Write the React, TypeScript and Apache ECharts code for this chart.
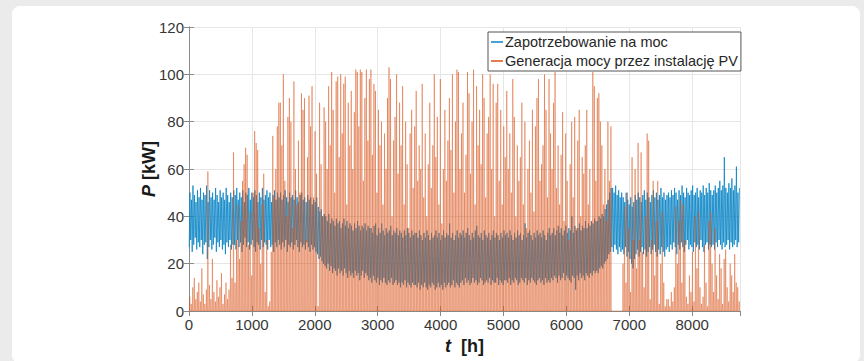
import React, { useEffect, useRef } from "react";
import * as echarts from "echarts";

// ---- data (one value per day of the year) ----
const HOURS_PER_DAY = 24;

// PV generation: daily peak power [kW]
const pvDailyPeak = [
  6, 3, 10, 14, 5, 8, 12, 4, 18, 7, 3, 9, 59, 11, 5, 22, 8, 4, 13, 6, 10, 16, 3, 7, 12, 5, 9, 28, 14, 67,
  12, 30, 45, 22, 38, 55, 62, 69, 66, 28, 42, 15, 50, 76, 71, 68, 35, 20, 45, 58, 8, 30, 2, 4, 25, 74, 48, 60, 78, 88,
  88, 70, 100, 55, 40, 82, 90, 80, 35, 97, 60, 45, 72, 50, 92, 85, 90, 30, 65, 91, 78, 95, 48, 76, 58, 2, 88, 62, 40, 86,
  80, 60, 95, 70, 101, 85, 50, 97, 99, 65, 100, 75, 96, 99, 45, 88, 70, 93, 60, 84, 102, 101, 78, 102, 101, 55, 90, 102, 72, 98,
  102, 66, 96, 93, 50, 85, 70, 80, 45, 75, 60, 90, 103, 98, 40, 72, 82, 100, 58, 88, 70, 95, 45, 80, 62, 35, 75, 85, 52, 78,
  93, 55, 70, 60, 96, 48, 75, 40, 62, 88, 52, 70, 100, 65, 82, 45, 98, 37, 60, 85, 55, 72, 90, 68, 100, 50, 80, 102, 101, 60,
  75, 88, 50, 66, 101, 92, 58, 80, 102, 45, 95, 70, 85, 62, 100, 90, 48, 75, 82, 100, 60, 96, 40, 88, 96, 55, 85, 45, 78, 65,
  93, 60, 75, 50, 98, 82, 40, 70, 55, 65, 88, 45, 80, 35, 60, 72, 50, 85, 42, 78, 90, 98, 55, 62, 70, 100, 85, 48, 98, 75,
  60, 88, 101, 52, 70, 45, 66, 84, 38, 75, 55, 30, 62, 80, 48, 82, 35, 72, 85, 40, 65, 58, 70, 85, 45, 60, 38, 101, 95, 55,
  90, 92, 80, 70, 45, 60, 38, 80, 55, 78,
  0, 0, 0, 0, 0, 0, 0,
  20, 44, 12, 50, 35, 8, 65, 30, 60, 18, 71, 30, 67, 25, 10, 40, 75, 72, 5, 30, 55, 15, 38, 55, 3, 20, 42, 12, 2, 5,
  5, 2, 8, 4, 10, 44, 20, 38, 47, 12, 45, 30, 6, 3, 15, 8, 25, 4, 40, 18, 42, 10, 3, 6, 28, 12, 2, 38, 42, 20,
  8, 35, 15, 5, 24, 18, 3, 22, 26, 10, 4, 20, 15, 8, 24, 12, 10, 4,
];

// Power demand: daily minimum [kW]
const demandDailyMin = [
  27, 30, 25, 28, 31, 26, 29, 27, 30, 24, 28, 29, 22, 27, 30, 26, 28, 31, 25, 29, 27, 30, 26, 28, 24, 29, 27, 30, 26, 28,
  28, 26, 30, 27, 29, 25, 28, 31, 27, 29, 26, 28, 30, 27, 25, 29, 28, 26, 30, 27, 29, 28, 26, 30, 27, 28, 25, 29, 27, 30,
  28, 26, 29, 27, 30, 25, 28, 27, 29, 26, 28, 30, 27, 25, 29, 27, 28, 26, 29, 27, 25, 28, 26, 27, 25, 24, 22, 23, 21, 20,
  19, 18, 20, 17, 19, 16, 18, 17, 15, 18, 16, 17, 15, 18, 16, 14, 17, 15, 16, 14, 17, 15, 16, 13, 15, 17, 14, 16, 15, 13,
  14, 12, 15, 13, 12, 14, 11, 13, 12, 14, 12, 11, 13, 12, 14, 11, 12, 13, 11, 12, 10, 12, 11, 13, 10, 12, 11, 10, 12, 11,
  11, 10, 12, 9, 11, 10, 12, 10, 9, 11, 10, 12, 11, 9, 10, 12, 10, 11, 9, 12, 10, 11, 12, 10, 11, 13, 10, 12, 11, 10,
  12, 13, 11, 14, 12, 13, 11, 12, 14, 12, 13, 11, 12, 14, 13, 11, 12, 13, 12, 14, 11, 13, 12, 12, 14, 11, 13, 12, 11, 13,
  13, 12, 14, 11, 13, 12, 14, 13, 11, 12, 14, 13, 12, 14, 11, 13, 12, 14, 13, 12, 11, 13, 14, 12, 13, 11, 14, 12, 13, 12,
  14, 13, 15, 14, 12, 15, 13, 14, 16, 13, 15, 14, 13, 12, 15, 14, 9, 15, 13, 16, 14, 15, 13, 16, 15, 14, 16, 15, 17, 16,
  17, 16, 18, 19, 18, 20, 21, 22, 24, 25,
  27, 25, 28, 26, 24, 27, 25,
  26, 24, 27, 23, 25, 22, 20, 18, 22, 24, 26, 23, 25, 27, 24, 26, 23, 25, 27, 24, 26, 28, 25, 23, 26, 24, 27, 25, 23, 26,
  27, 25, 28, 26, 29, 27, 24, 28, 26, 29, 27, 25, 28, 30, 26, 28, 27, 25, 29, 27, 28, 26, 30, 27, 25, 28, 29, 26, 28, 27,
  28, 26, 29, 27, 30, 28, 26, 29, 27, 28, 30, 26, 29, 27, 28, 30, 27, 29,
];

// Power demand: daily maximum [kW]
const demandDailyMax = [
  50, 47, 53, 49, 46, 51, 48, 52, 47, 50, 49, 53, 46, 51, 48, 50, 47, 52, 49, 46, 51, 48, 50, 47, 52, 49, 46, 50, 48, 51,
  49, 52, 47, 50, 48, 51, 46, 50, 49, 52, 47, 50, 48, 51, 49, 46, 50, 48, 52, 47, 49, 51, 48, 50, 46, 49, 51, 47, 50, 48,
  50, 47, 49, 51, 48, 46, 50, 48, 49, 47, 51, 48, 46, 49, 50, 47, 48, 46, 49, 47, 48, 45, 47, 46, 48, 44, 42, 43, 40, 41,
  40, 38, 41, 37, 39, 38, 36, 39, 37, 38, 35, 37, 39, 36, 38, 35, 37, 36, 34, 37, 35, 38, 36, 34, 36, 35, 37, 34, 36, 35,
  35, 33, 36, 37, 32, 35, 33, 37, 34, 32, 35, 33, 34, 36, 32, 34, 33, 35, 32, 34, 33, 31, 34, 32, 35, 33, 31, 34, 32, 33,
  33, 31, 34, 32, 30, 33, 31, 34, 32, 30, 33, 31, 32, 34, 31, 33, 30, 32, 34, 31, 33, 32, 37, 31, 33, 30, 32, 34, 31, 33,
  32, 34, 31, 33, 35, 32, 30, 33, 31, 34, 36, 32, 31, 33, 30, 34, 32, 31, 33, 30, 32, 34, 31, 33, 32, 30, 33, 31, 34, 32,
  33, 31, 34, 32, 30, 33, 31, 34, 32, 33, 30, 32, 37, 31, 33, 34, 32, 30, 33, 31, 34, 32, 33, 31, 34, 32, 30, 33, 35, 32,
  33, 35, 32, 34, 36, 33, 35, 32, 34, 36, 33, 35, 34, 40, 33, 36, 34, 35, 37, 34, 36, 35, 38, 35, 37, 36, 38, 37, 39, 38,
  38, 40, 39, 41, 40, 43, 45, 47, 50, 52,
  52, 50, 53, 49, 51, 48, 50,
  48, 46, 50, 47, 45, 48, 44, 46, 49, 47, 50, 48, 46, 49, 51, 47, 50, 48, 46, 49, 51, 48, 50, 47, 49, 52, 48, 50, 47, 49,
  50, 48, 51, 49, 52, 50, 47, 51, 49, 53, 50, 48, 52, 50, 49, 51, 53, 49, 50, 52, 48, 51, 50, 53, 49, 52, 50, 54, 51, 49,
  51, 53, 50, 52, 55, 51, 53, 65, 52, 50, 54, 52, 56, 51, 53, 61, 50, 52,
];

const seriesNames = ["Zapotrzebowanie na moc", "Generacja mocy przez instalację PV"];
const xAxisRange = { min: 0, max: 8760, interval: 1000 };
const yAxisRange = { min: 0, max: 120, interval: 20 };

// hourly points built from the daily values
function buildDemand(): number[][] {
  const out: number[][] = [];
  for (let d = 0; d < demandDailyMin.length; d++) {
    out.push([d * HOURS_PER_DAY + 3, demandDailyMin[d]]);
    out.push([d * HOURS_PER_DAY + 15, demandDailyMax[d]]);
  }
  return out;
}
function buildPV(): number[][] {
  const out: number[][] = [];
  for (let d = 0; d < pvDailyPeak.length; d++) {
    out.push([d * HOURS_PER_DAY + 7, 0]);
    out.push([d * HOURS_PER_DAY + 12, pvDailyPeak[d]]);
    out.push([d * HOURS_PER_DAY + 17, 0]);
  }
  return out;
}

const FONT = "'Liberation Sans', Arial, Helvetica, sans-serif";
const AXIS_COLOR = "#8a8a8a";
const LABEL_COLOR = "#363636";
const GRID_COLOR = "#e6e6e6";
const BLUE = "#0a84c6";
const ORANGE = "#D95319";

export default function App() {
  const ref = useRef<HTMLDivElement>(null);

  useEffect(() => {
    document.body.style.margin = "0";
    if (!ref.current) return;
    const chart = echarts.init(ref.current, undefined, { renderer: "svg" });
    const axisLine = { show: true, lineStyle: { color: AXIS_COLOR, width: 1 } };
    const axisTick = { show: true, inside: true, length: 5, lineStyle: { color: AXIS_COLOR } };
    const nameStyle = {
      fontFamily: FONT,
      fontSize: 18,
      fontWeight: "bold",
      color: "#1a1a1a",
      rich: { i: { fontFamily: FONT, fontSize: 18, fontWeight: "bold", fontStyle: "italic", color: "#1a1a1a" } },
    };
    chart.setOption({
      animation: false,
      grid: { left: 189, right: 124, top: 27, bottom: 50, containLabel: false },
      legend: {
        left: 488,
        top: 32,
        orient: "vertical",
        backgroundColor: "#ffffff",
        borderColor: "#555555",
        borderWidth: 1,
        borderRadius: 0,
        padding: [2, 3, 2, 3],
        itemGap: 3,
        itemWidth: 12,
        itemHeight: 1.5,
        icon: "rect",
        data: seriesNames,
        textStyle: { fontFamily: FONT, fontSize: 14.5, color: "#262626", lineHeight: 16, padding: [0, 0, 0, -3] },
      },
      xAxis: [
        {
          type: "value",
          ...xAxisRange,
          axisLine,
          axisTick,
          axisLabel: {
            show: true,
            margin: 6,
            showMaxLabel: false,
            fontFamily: FONT,
            fontSize: 15,
            color: LABEL_COLOR,
            formatter: (v: number) => (v % 1000 === 0 ? String(v) : ""),
          },
          splitLine: { show: true, lineStyle: { color: GRID_COLOR, width: 1 } },
          name: "{i|t}  [h]",
          nameLocation: "middle",
          nameGap: 26,
          nameMoveOverlap: false,
          nameTextStyle: nameStyle,
        },
        {
          type: "value",
          position: "top",
          ...xAxisRange,
          axisLine,
          axisTick,
          axisLabel: { show: false },
          splitLine: { show: false },
        },
      ],
      yAxis: [
        {
          type: "value",
          ...yAxisRange,
          axisLine,
          axisTick,
          axisLabel: { show: true, margin: 5, fontFamily: FONT, fontSize: 15, color: LABEL_COLOR },
          splitLine: { show: true, lineStyle: { color: GRID_COLOR, width: 1 } },
          name: "{i|P} [kW]",
          nameLocation: "middle",
          nameGap: 31,
          nameMoveOverlap: false,
          nameTextStyle: nameStyle,
        },
        {
          type: "value",
          position: "right",
          ...yAxisRange,
          axisLine,
          axisTick,
          axisLabel: { show: false },
          splitLine: { show: false },
        },
      ],
      series: [
        {
          name: seriesNames[0],
          type: "line",
          xAxisIndex: 0,
          yAxisIndex: 0,
          data: buildDemand(),
          symbol: "none",
          showSymbol: false,
          silent: true,
          itemStyle: { color: BLUE },
          lineStyle: { color: BLUE, width: 1, opacity: 0.8 },
          z: 2,
        },
        {
          name: seriesNames[1],
          type: "line",
          xAxisIndex: 0,
          yAxisIndex: 0,
          data: buildPV(),
          symbol: "none",
          showSymbol: false,
          silent: true,
          itemStyle: { color: ORANGE },
          lineStyle: { color: ORANGE, width: 1, opacity: 0.45 },
          z: 3,
        },
      ],
    });
    return () => chart.dispose();
  }, []);

  return (
    <div style={{ position: "absolute", left: 0, top: 0, width: 864, height: 361, background: "#ebebeb", overflow: "hidden" }}>
      <div style={{ position: "absolute", left: 12, top: 6, width: 848, height: 357, background: "#ffffff", borderRadius: 8 }} />
      <div ref={ref} style={{ position: "absolute", left: 0, top: 0, width: 864, height: 361 }} />
    </div>
  );
}
